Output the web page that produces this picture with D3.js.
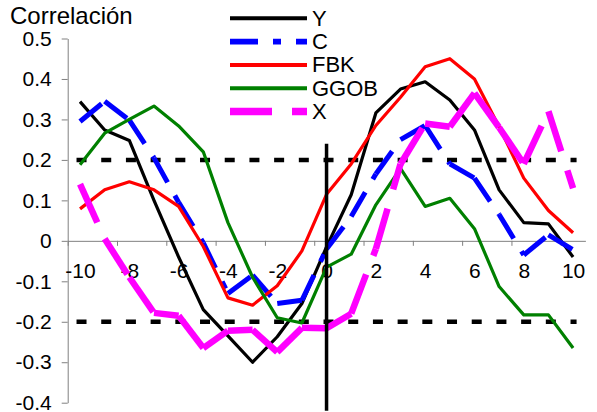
<!DOCTYPE html>
<html>
<head>
<meta charset="utf-8">
<script src="https://cdn.jsdelivr.net/npm/d3@7"></script>
<style>
  body { margin: 0; background: #fff; }
  svg { display: block; font-family: "Liberation Sans", Arial, sans-serif; }
</style>
</head>
<body>
<div class="chart"></div>
<script>
// lags -10 .. 10
const lags = d3.range(-10, 11);
const xLabels = [-10, -8, -6, -4, -2, 0, 2, 4, 6, 8, 10];
const yTicks = [0.5, 0.4, 0.3, 0.2, 0.1, 0, -0.1, -0.2, -0.3, -0.4];

const Y    = [0.344, 0.274, 0.248, 0.10, -0.04, -0.17, -0.235, -0.30, -0.237, -0.155, -0.015, 0.114, 0.316, 0.375, 0.393, 0.348, 0.274, 0.126, 0.045, 0.042, -0.04];
const C    = [0.295, 0.345, 0.298, 0.205, 0.095, -0.005, -0.13, -0.085, -0.155, -0.147, -0.02, 0.06, 0.165, 0.25, 0.285, 0.19, 0.155, 0.065, -0.035, 0.015, -0.022];
const FBK  = [0.079, 0.126, 0.146, 0.126, 0.085, -0.014, -0.141, -0.159, -0.111, -0.025, 0.115, 0.19, 0.285, 0.355, 0.43, 0.45, 0.40, 0.282, 0.155, 0.075, 0.02];
const GGOB = [0.188, 0.266, 0.30, 0.333, 0.284, 0.22, 0.045, -0.09, -0.19, -0.203, -0.065, -0.033, 0.089, 0.179, 0.085, 0.105, 0.03, -0.113, -0.183, -0.183, -0.265];
const X    = [0.14, 0.005, -0.09, -0.178, -0.185, -0.265, -0.222, -0.22, -0.275, -0.215, -0.216, -0.18, -0.02, 0.19, 0.29, 0.282, 0.365, 0.28, 0.19, 0.32, 0.13];

const bands = [0.2, -0.2];
const zeroLine = [0.24, -0.42];

const series = [
  {name: 'Y', values: Y, color: '#000000', w: 3.2, dash: null},
  {name: 'C', values: C, color: '#0000ff', w: 5, dash: '28,15,8,15'},
  {name: 'FBK', values: FBK, color: '#ff0000', w: 3.2, dash: null},
  {name: 'GGOB', values: GGOB, color: '#008000', w: 3.2, dash: null},
  {name: 'X', values: X, color: '#ff00ff', w: 6.5, dash: '42,20'}
];

const width = 597, height = 412;
let svg = d3.select('.chart')
    .append('svg')
    .attr('width', width)
    .attr('height', height);

let x_scale = d3.scaleLinear()
    .domain([-10.5, 10.5])
    .range([67.7, 585.4]);
let y_scale = d3.scaleLinear()
    .domain([-0.4, 0.5])
    .range([402.7, 38.5]);

// y axis
let y_Axis = d3.axisLeft(y_scale)
    .tickValues(yTicks)
    .tickSize(6)
    .tickSizeOuter(0)
    .tickPadding(10)
    .tickFormat(d => d === 0 ? '0' : d.toFixed(1));
let gy = svg.append('g')
    .attr('transform', `translate(${x_scale(-10.5)},0)`)
    .call(y_Axis);
gy.selectAll('text').attr('font-size', 21).attr('fill', '#000').attr('font-family', null);
gy.select('.domain').attr('stroke', '#808080');
gy.selectAll('.tick line').attr('stroke', '#808080');

// x axis: tick marks on category edges, labels on centres
let x_Ticks = d3.axisBottom(x_scale)
    .tickValues(d3.range(-10.5, 10, 2))
    .tickSize(5)
    .tickSizeOuter(0)
    .tickFormat('');
let gx = svg.append('g')
    .attr('transform', `translate(0,${y_scale(0)})`)
    .call(x_Ticks);
gx.select('.domain').attr('stroke', '#808080');
gx.selectAll('.tick line').attr('stroke', '#808080');

let x_Axis = d3.axisBottom(x_scale)
    .tickValues(xLabels)
    .tickSize(0)
    .tickPadding(22)
    .tickFormat(d => String(d));
let gxl = svg.append('g')
    .attr('transform', `translate(0,${y_scale(0)})`)
    .call(x_Axis);
gxl.select('.domain').remove();
gxl.selectAll('text').attr('font-size', 21).attr('fill', '#000').attr('font-family', null);

// +-0.2 reference lines
svg.append('g')
    .selectAll('line')
    .data(bands)
    .join('line')
    .attr('x1', x_scale(-10) - 3.5)
    .attr('x2', x_scale(10) + 3.5)
    .attr('y1', d => y_scale(d))
    .attr('y2', d => y_scale(d))
    .attr('stroke', '#000')
    .attr('stroke-width', 4.5)
    .attr('stroke-dasharray', '10,14.7');

// series
let line = d3.line()
    .x((d, i) => x_scale(lags[i]))
    .y(d => y_scale(d));
series.forEach(s => {
    if (!s.dash) {
        svg.append('path')
            .attr('d', line(s.values))
            .attr('fill', 'none')
            .attr('stroke', s.color)
            .attr('stroke-width', s.w)
            .attr('stroke-linejoin', 'round');
    } else {
        // dash pattern restarts on every segment
        let segs = d3.pairs(s.values.map((v, i) => [lags[i], v]));
        svg.append('g')
            .selectAll('line')
            .data(segs)
            .join('line')
            .attr('x1', d => x_scale(d[0][0]))
            .attr('y1', d => y_scale(d[0][1]))
            .attr('x2', d => x_scale(d[1][0]))
            .attr('y2', d => y_scale(d[1][1]))
            .attr('stroke', s.color)
            .attr('stroke-width', s.w)
            .attr('stroke-dasharray', s.dash);
    }
});

// vertical line at lag 0
svg.append('line')
    .attr('x1', x_scale(0))
    .attr('x2', x_scale(0))
    .attr('y1', y_scale(zeroLine[0]))
    .attr('y2', y_scale(zeroLine[1]))
    .attr('stroke', '#000')
    .attr('stroke-width', 3.5);

// title
svg.append('text')
    .attr('x', 10)
    .attr('y', 24)
    .attr('font-size', 24)
    .text('Correlación');

// legend
let lg = svg.append('g')
    .selectAll('g')
    .data(series)
    .join('g')
    .attr('transform', (d, i) => `translate(230,${18.3 + i * 23.3})`);
lg.append('line')
    .attr('x1', 0)
    .attr('x2', 77)
    .attr('stroke', d => d.color)
    .attr('stroke-width', d => d.w + 0.8)
    .attr('stroke-dasharray', d => d.dash);
lg.append('text')
    .attr('x', 82)
    .attr('y', 7.5)
    .attr('font-size', 22)
    .text(d => d.name);
</script>
</body>
</html>
